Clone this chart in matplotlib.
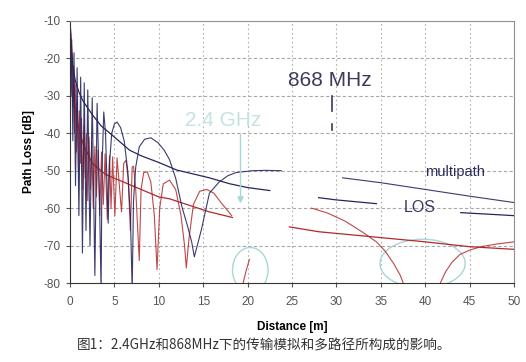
import matplotlib.pyplot as plt
from matplotlib.patches import Ellipse
import numpy as np

plt.rcParams['font.family'] = ['Liberation Sans', 'DejaVu Sans']
plt.rcParams['axes.unicode_minus'] = False

nan = np.nan

# 868 MHz multipath (gaps where the picture is blank)
mp868_x = [0, 0.1, 0.2, 0.32, 0.45, 0.62, 0.8, 1.0, 1.2, 1.4, 1.6, 1.8, 2.0, 2.25, 2.5, 2.8,
           3.05, 3.3, 3.5, 3.6, 3.8, 4.0, 4.3, 4.45, 4.7, 5.0, 5.3, 5.7, 6.1, 6.5, 6.8, 7.0,
           7.15, 7.4, 7.8, 8.4, 9.1, 9.9, 10.6, 11.2, 11.9, 12.6, 13.2, 13.7, 14.0,
           14.8, 15.7, 16.8, 17.8, 18.7, 20.5, 22.0, 23.8, nan,
           30.7, 35, 40, 45, 50]
mp868_y = [-11, -30, -19, -42, -18.5, -54, -22.5, -62, -25, -72, -26.5, -66, -28.4, -70, -30.5, -78,
           -32, -55, -82, -50, -34.3, -40, -64, -48, -40, -37.5, -37, -38.5, -42, -50, -62, -82,
           -58, -49, -43.6, -41.6, -41.2, -42.5, -44.5, -47, -52, -59.6, -64.5, -69, -73,
           -65.7, -56, -53, -51.3, -50.5, -50, -49.9, -50, nan,
           -51.9, -53.2, -55, -56.8, -58.5]

# 868 MHz line of sight
los868_x = [0.05, 0.3, 0.6, 1.0, 1.5, 2.5, 3.5, 4.7, 6.7, 8, 10, 12, 15.7, 18, 20, 22.5, nan,
            28, 30, 34.5, nan, 44, 47, 50]
los868_y = [-12, -22, -26, -29, -31.5, -35, -38, -40.4, -44.5, -46, -47.8, -49.8, -51.9, -53.5,
            -54.5, -55.3, nan, -57.2, -57.8, -58.8, nan, -61.2, -61.6, -62]

# 2.4 GHz multipath
mp24_x = [0, 0.12, 0.2, 0.3, 0.4, 0.5, 0.6, 0.72, 0.82, 0.95, 1.05, 1.18, 1.3, 1.45, 1.58, 1.72,
          1.85, 2.0, 2.15, 2.3, 2.45, 2.62, 2.8, 2.98, 3.15, 3.35, 3.55, 3.75, 3.95, 4.2, 4.45,
          4.62, 4.8, 5.05, 5.3, 5.8, 6.05, 6.3, 6.55, 6.8, 7.0, 7.15, 7.4, 7.8, 8.0, 8.3, 8.7,
          9.1, 9.5, 9.8, 10.1, 10.5, 11.2, 11.9, 12.5, 12.9, 13.1, 13.4, 13.9, 14.6, 15.4, 16.2,
          17.0, 17.7, 18.2, nan, 19.5, 19.8, 20.2, nan,
          27.2, 29, 31, 33, 34.5, 35.5, 36.5, 37.2, 37.6, nan,
          41.6, 42.3, 43.0, 43.9, 45, 46.3, 48, 50]
mp24_y = [-10, -24, -15, -33, -22, -40, -27, -45, -31, -50, -34, -48, -36, -55, -38, -52,
          -40, -58, -41, -55, -42.5, -60, -43.5, -57, -44.5, -62, -45, -59, -45.5, -63, -46,
          -60, -46.3, -62, -46.6, -61, -48, -47.2, -52, -66, -49, -48.8, -55, -74, -55, -50.5, -50.3,
          -53, -62, -76.4, -60, -53.5, -52.5, -55, -62, -70, -76, -68, -59, -55.5, -55, -56,
          -58.5, -60.5, -62, nan, -80, -77, -73.7, nan,
          -60, -61.3, -63.5, -66.5, -69, -71.5, -75, -78, -80.5, nan,
          -80.5, -77, -74.5, -72.4, -71.2, -70.3, -69.6, -69]

# 2.4 GHz line of sight
los24_x = [0, 0.2, 0.5, 1.0, 1.5, 2.5, 4, 6.7, 10, 11.2, 15.7, 18.3, nan,
           24.7, 28, 33.8, 40, 45, 50]
los24_y = [-10, -20, -32, -39, -43, -48, -51, -53.7, -57, -57.5, -61, -62.5, nan,
           -65, -66.3, -67.6, -69, -70.3, -71]

x_ticks = [0, 5, 10, 15, 20, 25, 30, 35, 40, 45, 50]
y_ticks = [-10, -20, -30, -40, -50, -60, -70, -80]

navy = '#26265e'
red = '#b3272b'
cyan = '#a9d6d6'

fig = plt.figure(figsize=(5.26, 3.62), dpi=100)
ax = fig.add_axes([0.1331, 0.2182, 0.8441, 0.7238])

for v in x_ticks[1:-1]:
    ax.axvline(v, color='#b0b0b0', lw=0.8, ls=(0, (1.5, 2.5)), zorder=0)
for v in y_ticks[1:-1]:
    ax.axhline(v, color='#a8a8a8', lw=0.8, ls=(0, (3, 2)), zorder=0)

ax.plot(mp24_x, mp24_y, color=red, lw=0.8, alpha=0.85)
ax.plot(los24_x, los24_y, color=red, lw=0.9)
ax.plot(mp868_x, mp868_y, color=navy, lw=0.8, alpha=0.9)
ax.plot(los868_x, los868_y, color=navy, lw=0.9)

# cyan markings
ax.add_patch(Ellipse((39.7, -74.8), 9.6, 13.0, fill=False, ec=cyan, lw=1.0))
ax.add_patch(Ellipse((20.3, -76.5), 4.0, 12.0, fill=False, ec=cyan, lw=1.0))
ax.annotate('', xy=(19.2, -59.5), xytext=(19.2, -39.5),
            arrowprops=dict(arrowstyle='-|>', color=cyan, lw=1.0, mutation_scale=9))
ax.text(13.0, -36.5, '2.4 GHz', color='#c6e2e2', fontsize=15, va='center')
ax.text(24.6, -26.0, '868 MHz', color='#3b3b5c', fontsize=15, va='center')
ax.plot([29.5, 29.5], [-30.0, -34.0], color='#3b3b5c', lw=1.2)
ax.plot([29.5, 29.5], [-37.5, -39.0], color='#3b3b5c', lw=1.2)
ax.text(43.4, -50.3, 'multipath', color='#2a2a5a', fontsize=10.5, ha='center', va='center')
ax.text(39.4, -59.8, 'LOS', color='#3a3a66', fontsize=11.5, ha='center', va='center')

ax.set_xlim(0, 50)
ax.set_ylim(-80, -10)
ax.set_xticks(x_ticks)
ax.set_yticks(y_ticks)
ax.tick_params(labelsize=8.5, colors='#555555', length=3, width=0.8, pad=4)
ax.tick_params(axis='x', pad=6)
for s in ['left', 'bottom']:
    ax.spines[s].set_color('#333333')
for s in ['top', 'right']:
    ax.spines[s].set_color('#909090')
    ax.spines[s].set_linewidth(0.8)

ax.set_ylabel('Path Loss [dB]', fontsize=8.5, fontweight='bold', labelpad=6)
ax.set_xlabel('Distance [m]', fontsize=8.5, fontweight='bold', labelpad=10)

fig.text(0.146, 0.047, '图1：2.4GHz和868MHz下的传输模拟和多路径所构成的影响。',
         fontsize=9.8, color='#333333', style='italic',
         family=['Noto Sans CJK SC', 'DejaVu Sans'], va='center')

fig.savefig('out.png', dpi=100)
